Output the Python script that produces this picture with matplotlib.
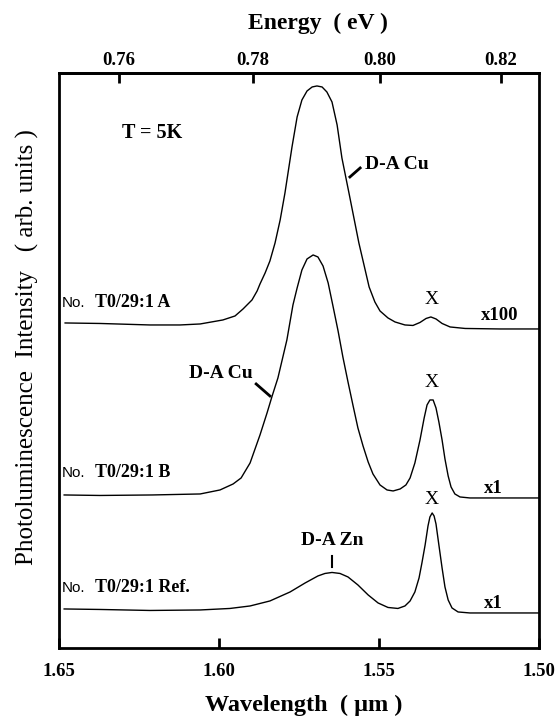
import matplotlib
matplotlib.use("Agg")
from matplotlib import pyplot as plt

plt.rcParams['font.family'] = ['Liberation Serif', 'DejaVu Serif']

# spectra: wavelength (um) and PL intensity (arb. units, baseline removed)
wl_a = [1.6481, 1.6372, 1.6216, 1.6122, 1.6059, 1.5988, 1.5950, 1.5925, 1.5897, 1.5881,
        1.5872, 1.5856, 1.5841, 1.5825, 1.5809, 1.5794, 1.5772, 1.5756, 1.5741, 1.5725,
        1.5709, 1.5694, 1.5678, 1.5663, 1.5647, 1.5631, 1.5616, 1.5594, 1.5563, 1.5531,
        1.5513, 1.5497, 1.5472, 1.5450, 1.5419, 1.5394, 1.5372, 1.5353, 1.5338, 1.5322,
        1.5303, 1.5278, 1.5231, 1.5122, 1.5000]
int_a = [6, 5.5, 4, 4, 5, 9, 13, 20, 29, 38,
         45, 56, 68, 86, 109, 136, 182, 212, 229, 238,
         242, 243, 242, 237, 227, 204, 171, 136, 86, 42,
         27, 18, 11, 7, 4, 3.5, 6.5, 10.5, 12, 10,
         5.5, 2, 0.5, 0, 0]

wl_b = [1.6484, 1.6372, 1.6209, 1.6059, 1.5997, 1.5956, 1.5931, 1.5903, 1.5872, 1.5850,
        1.5834, 1.5816, 1.5788, 1.5769, 1.5756, 1.5741, 1.5725, 1.5706, 1.5691, 1.5675,
        1.5659, 1.5644, 1.5628, 1.5613, 1.5597, 1.5581, 1.5566, 1.5550, 1.5534, 1.5519,
        1.5497, 1.5475, 1.5456, 1.5434, 1.5416, 1.5403, 1.5388, 1.5372, 1.5359, 1.5350,
        1.5341, 1.5331, 1.5322, 1.5313, 1.5303, 1.5294, 1.5284, 1.5275, 1.5263, 1.5247,
        1.5216, 1.5122, 1.5000]
int_b = [3, 2.5, 3, 4, 8, 14, 20, 35, 63, 85,
         102, 120, 158, 193, 210, 228, 239, 243, 241, 232,
         215, 192, 167, 141, 116, 92, 70, 52, 36, 24,
         13, 8, 7, 9, 13, 20, 35, 58, 80, 93,
         98, 98, 90, 76, 58, 39, 22, 11, 4, 1,
         0, 0, 0]

wl_c = [1.6484, 1.6372, 1.6216, 1.6059, 1.5966, 1.5903, 1.5841, 1.5778, 1.5731, 1.5691,
        1.5669, 1.5647, 1.5622, 1.5597, 1.5566, 1.5534, 1.5503, 1.5472, 1.5441, 1.5419,
        1.5403, 1.5388, 1.5375, 1.5366, 1.5356, 1.5347, 1.5341, 1.5334, 1.5328, 1.5322,
        1.5313, 1.5303, 1.5294, 1.5284, 1.5272, 1.5253, 1.5216, 1.5122, 1.5000]
int_c = [4, 3.5, 2.5, 3, 4.5, 7, 12, 21, 30, 37,
         39.5, 40.5, 39.5, 36, 28, 18, 10, 5.5, 4.5, 7,
         12, 21, 35, 50, 68, 87, 96, 100, 97, 89,
         68, 45, 26, 13, 5, 1, 0, 0, 0]

sample_names = ["T0/29:1 A", "T0/29:1 B", "T0/29:1 Ref."]
scale_labels = ["x100", "x1", "x1"]
energy_ticks = [0.76, 0.78, 0.80, 0.82]
wl_ticks = [1.65, 1.60, 1.55, 1.50]

# vertical stacking of the three spectra
offsets = [319, 150, 35]


def main():
    fig = plt.figure(figsize=(5.59, 7.21), dpi=100)
    ax = fig.add_axes([0.1056, 0.1013, 0.8587, 0.7975])

    for wl, inten, off in zip([wl_a, wl_b, wl_c], [int_a, int_b, int_c], offsets):
        ax.plot(wl, [v + off for v in inten], color='black', lw=1.0,
                solid_joinstyle='round', clip_on=False)

    ax.set_xlim(1.65, 1.50)
    ax.set_ylim(0, 575)
    ax.set_yticks([])
    ax.set_xticks(wl_ticks)
    ax.set_xticklabels(["%.2f" % t for t in wl_ticks])
    ax.tick_params(axis='x', direction='in', length=7, width=2, pad=11,
                   labelsize=13.5)
    for lbl in ax.get_xticklabels():
        lbl.set_fontweight('bold')
    for s in ax.spines.values():
        s.set_linewidth(2)

    top = ax.secondary_xaxis('top', functions=(lambda w: 1.2398 / w, lambda e: 1.2398 / e))
    top.set_xticks(energy_ticks)
    top.set_xticklabels(["%.2f" % t for t in energy_ticks])
    top.tick_params(axis='x', direction='in', length=7, width=2, pad=3, labelsize=13.5)
    for lbl in top.get_xticklabels():
        lbl.set_fontweight('bold')
    top.spines['top'].set_linewidth(2)

    fig.text(0.568, 0.968, "Energy  ( eV )", ha='center', va='center',
             fontsize=17, fontweight='bold')
    fig.text(0.544, 0.022, "Wavelength  ( \u03bcm )", ha='center', va='center',
             fontsize=17.5, fontweight='bold')
    fig.text(0.05, 0.519, "Photoluminescence  Intensity   ( arb. units )",
             rotation=90, ha='center', va='center', fontsize=18)

    # sample names
    for name, yy in zip(sample_names, [345, 175, 60]):
        ax.text(0.006, yy, "No.", transform=ax.get_yaxis_transform(),
                family=['Liberation Sans', 'DejaVu Sans'], fontsize=11, va='center')
        ax.text(0.075, yy, name, transform=ax.get_yaxis_transform(),
                fontsize=13, fontweight='bold', va='center')

    # multiplication factors
    for lab, yy in zip(scale_labels, [332, 159, 44]):
        ax.text(1.5122 if lab == "x100" else 1.5144, yy, lab, ha='center', va='center',
                fontsize=13.5, fontweight='bold')

    # exciton line labels
    for yy in [348, 265, 148]:
        ax.text(1.5336, yy, "X", ha='center', va='center', fontsize=14)

    ax.text(1.6209, 515, "T = 5K", ha='center', va='center', fontsize=14.5, fontweight='bold')

    ax.text(1.5544, 483, "D-A Cu", ha='left', va='center', fontsize=14, fontweight='bold')
    ax.plot([1.5591, 1.5559], [471, 480], color='black', lw=2)

    ax.text(1.5894, 274, "D-A Cu", ha='right', va='center', fontsize=14, fontweight='bold')
    ax.plot([1.5884, 1.5841], [264, 252], color='black', lw=2)

    ax.text(1.5647, 107, "D-A Zn", ha='center', va='center', fontsize=14, fontweight='bold')
    ax.plot([1.5647, 1.5647], [92, 81], color='black', lw=1.5)

    fig.savefig("out.png", dpi=100)


if __name__ == "__main__":
    main()
